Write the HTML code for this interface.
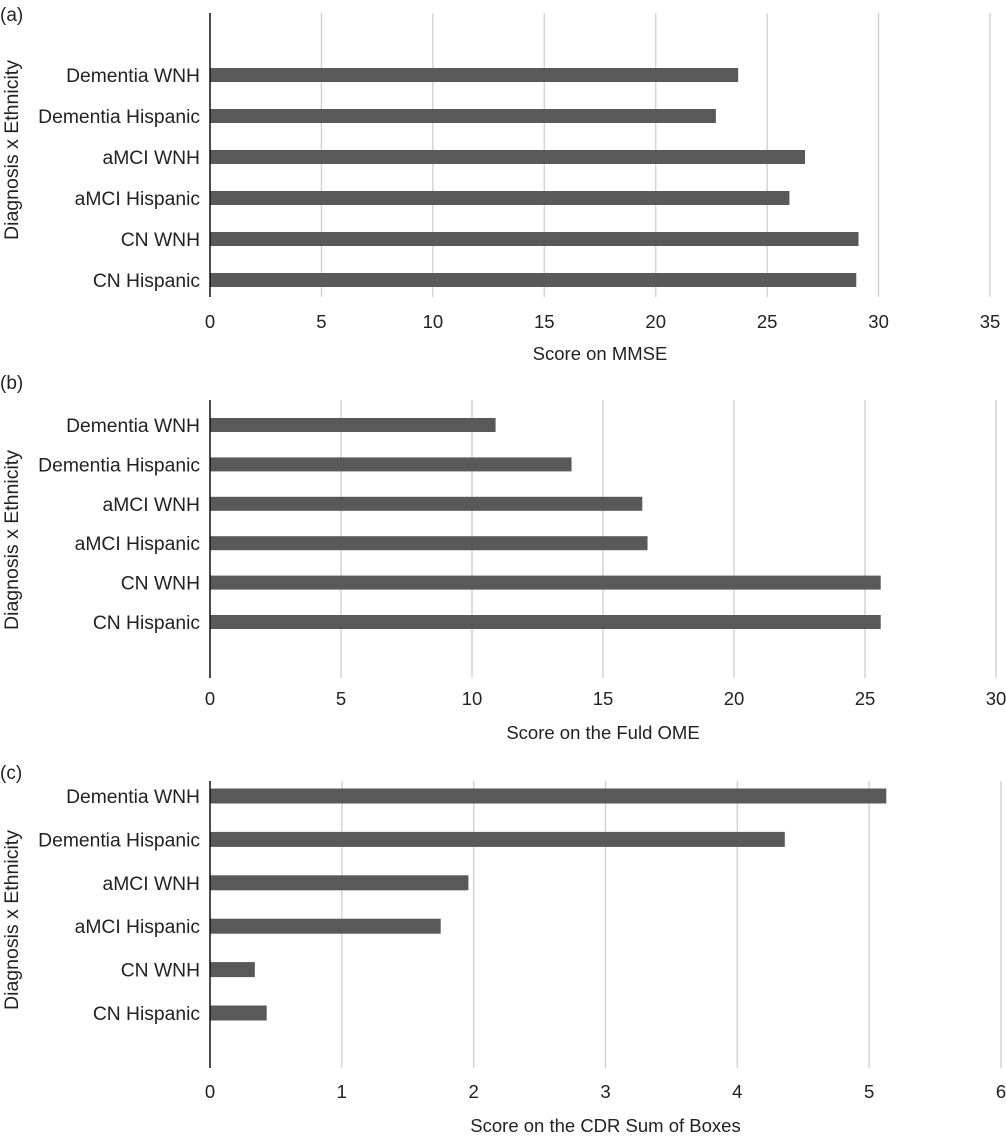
<!DOCTYPE html>
<html><head><meta charset="utf-8"><style>
body{margin:0;background:#fff;}
svg{display:block;font-family:"Liberation Sans",sans-serif;}
</style></head><body>
<svg id="c" width="1006" height="1137" viewBox="0 0 1006 1137"></svg>
<script>
const categories = ["Dementia WNH","Dementia Hispanic","aMCI WNH","aMCI Hispanic","CN WNH","CN Hispanic"];
const mmseValues = [23.7,22.7,26.7,26.0,29.1,29.0];
const omeValues = [10.9,13.8,16.5,16.7,25.6,25.6];
const cdrValues = [5.13,4.36,1.96,1.75,0.34,0.43];
const mmseTicks = [0,5,10,15,20,25,30,35];
const omeTicks = [0,5,10,15,20,25,30];
const cdrTicks = [0,1,2,3,4,5,6];
const titles = ["Score on MMSE","Score on the Fuld OME","Score on the CDR Sum of Boxes"];
const panelLabels = ["(a)","(b)","(c)"];

const NS="http://www.w3.org/2000/svg";
const svg=document.getElementById('c');
function mk(tag,attrs,parent){const e=document.createElementNS(NS,tag);for(const k in attrs)e.setAttribute(k,attrs[k]);(parent||svg).appendChild(e);return e;}

function panel(idx,values,ticks,cfg){
  const g=mk('g',{});
  
  
  const x0=210, x1=cfg.xEnd, max=ticks[ticks.length-1];
  const xs=v=>x0+(x1-x0)*v/max;
  const ys=i=>cfg.firstY+i*cfg.step;
  ticks.forEach(t=>{
    if(t>0){const l=mk('line',{x1:xs(t),x2:xs(t),y1:cfg.top,y2:cfg.bottom,stroke:'#d4d4d4','stroke-width':1.5},g);
      
      }
    const tx=mk('text',{x:xs(t),y:cfg.tickY,'text-anchor':'middle','font-size':18.5,fill:'#222'},g);
    tx.textContent=t;
    
    
  });
  values.forEach((v,i)=>{
    const r=mk('rect',{x:x0,y:ys(i)-cfg.bh/2,width:xs(v)-x0,height:cfg.bh,fill:'#595959'},g);
    
    
    const t=mk('text',{x:200,y:ys(i)+7,'text-anchor':'end','font-size':19.3,fill:'#222'},g);
    t.textContent=categories[i];
    
    
  });
  const ax=mk('line',{x1:x0,x2:x0,y1:cfg.top,y2:cfg.bottom,stroke:'#111','stroke-width':1.5},g);
  
  
  const xt=mk('text',{x:(x0+x1)/2,y:cfg.titleY,'text-anchor':'middle','font-size':18.5,fill:'#222'},g);
  xt.textContent=titles[idx];
  
  
  const yt=mk('text',{x:0,y:0,transform:`translate(18,${cfg.yTitleY}) rotate(-90)`,'text-anchor':'middle','font-size':19.5,fill:'#222'},g);
  yt.textContent='Diagnosis x Ethnicity';
  
  
  const pl=mk('text',{x:0,y:cfg.plY,'font-size':19,fill:'#222'},g);
  pl.textContent=panelLabels[idx];
  
  
}
panel(0,mmseValues,mmseTicks,{xEnd:990,top:13,bottom:297,firstY:75,step:41,bh:14,tickY:328,titleY:360,yTitleY:150,plY:21});
panel(1,omeValues,omeTicks,{xEnd:996,top:400,bottom:678,firstY:425,step:39.4,bh:14,tickY:705,titleY:739,yTitleY:540,plY:389});
panel(2,cdrValues,cdrTicks,{xEnd:1001,top:781,bottom:1068,firstY:796,step:43.4,bh:15,tickY:1098,titleY:1132,yTitleY:920,plY:779});
</script>
</body></html>
